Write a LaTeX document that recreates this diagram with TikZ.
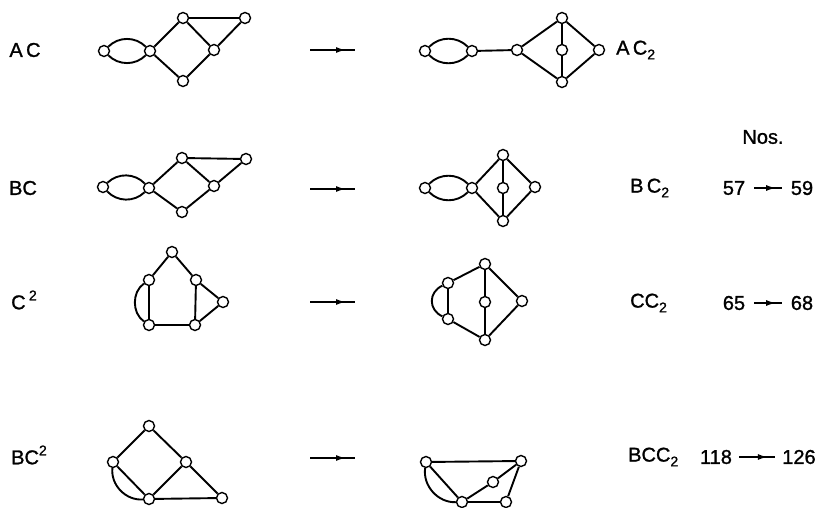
\documentclass[tikz,border=0pt]{standalone}
\usepackage{fontspec}
\setmainfont[FakeBold=1.2]{Liberation Sans}
\usetikzlibrary{arrows.meta,decorations.markings}

% lowered / raised indices for the graph names
\newcommand{\lowidx}[1]{\raisebox{-0.45ex}{\fontsize{14}{14}\selectfont #1}}
\newcommand{\highidx}[1]{\raisebox{0.85ex}{\fontsize{14}{14}\selectfont #1}}

\tikzset{
  vtx/.style={circle,draw,line width=1.4pt,fill=white,inner sep=0pt,minimum size=11pt},
  edg/.style={line width=1.9pt},
  lbl/.style={font=\fontsize{20}{20}\selectfont,inner sep=0pt},
  midarrow/.style={line width=1.9pt,postaction={decorate},
    decoration={markings,mark=at position #1 with {\arrow{Latex[length=10pt,width=6pt]}}}},
}

\begin{document}
\begin{tikzpicture}[x=1pt,y=-1pt]
\useasboundingbox (0,0) rectangle (817,508);

% ---------- row 1: AC -> AC2 ----------
\node[lbl] (tA1) at (25,50) {A\,C};
\node[vtx] (a1L) at (104,51) {};
\node[vtx] (a1C) at (150,51) {};
\node[vtx] (a1T) at (183,18) {};
\node[vtx] (a1R) at (214,50) {};
\node[vtx] (a1B) at (183,81) {};
\node[vtx] (a1F) at (245,18) {};
\draw[edg] (a1L) to[bend left=45] (a1C);
\draw[edg] (a1L) to[bend right=45] (a1C);
\draw[edg] (a1C) -- (a1T) -- (a1R) -- (a1B) -- (a1C);
\draw[edg] (a1T) -- (a1F) -- (a1R);

\coordinate (m1s) at (310,50);
\coordinate (m1e) at (355,50);
\draw[midarrow=0.8] (m1s) -- (m1e);

\node[vtx] (b1L) at (425,51) {};
\node[vtx] (b1M) at (472,51) {};
\node[vtx] (b1C) at (517,50) {};
\node[vtx] (b1T) at (562,18) {};
\node[vtx] (b1X) at (562,50) {};
\node[vtx] (b1B) at (562,82) {};
\node[vtx] (b1R) at (599,50) {};
\draw[edg] (b1L) to[bend left=45] (b1M);
\draw[edg] (b1L) to[bend right=45] (b1M);
\draw[edg] (b1M) -- (b1C);
\draw[edg] (b1C) -- (b1T) -- (b1R) -- (b1B) -- (b1C);
\draw[edg] (b1T) -- (b1X) -- (b1B);
\node[lbl,anchor=west] (tB1) at (616,50) {A\,C\lowidx{2}};

\node[lbl] (nos) at (763,137) {Nos.};

% ---------- row 2: BC -> BC2 ----------
\node[lbl] (tA2) at (23,188) {BC};
\node[vtx] (a2L) at (103,187) {};
\node[vtx] (a2C) at (149,188) {};
\node[vtx] (a2T) at (182,158) {};
\node[vtx] (a2R) at (214,186) {};
\node[vtx] (a2B) at (182,212) {};
\node[vtx] (a2F) at (246,159) {};
\draw[edg] (a2L) to[bend left=45] (a2C);
\draw[edg] (a2L) to[bend right=45] (a2C);
\draw[edg] (a2C) -- (a2T) -- (a2R) -- (a2B) -- (a2C);
\draw[edg] (a2T) -- (a2F) -- (a2R);

\coordinate (m2s) at (310,189);
\coordinate (m2e) at (355,189);
\draw[midarrow=0.8] (m2s) -- (m2e);

\node[vtx] (b2L) at (425,188) {};
\node[vtx] (b2C) at (472,188) {};
\node[vtx] (b2T) at (503,155) {};
\node[vtx] (b2X) at (503,188) {};
\node[vtx] (b2B) at (503,221) {};
\node[vtx] (b2R) at (535,187) {};
\draw[edg] (b2L) to[bend left=45] (b2C);
\draw[edg] (b2L) to[bend right=45] (b2C);
\draw[edg] (b2C) -- (b2T) -- (b2R) -- (b2B) -- (b2C);
\draw[edg] (b2T) -- (b2X) -- (b2B);
\node[lbl,anchor=west] (tB2) at (630,188) {B\,C\lowidx{2}};
\node[lbl] (n2a) at (734,188) {57};
\node[lbl] (n2b) at (802,188) {59};
\path (n2a.east) ++(9,0) coordinate (n2s) (n2b.west) ++(-9,0) coordinate (n2e);
\draw[midarrow=0.8] (n2s) -- (n2e);

% ---------- row 3: C^2 -> CC2 ----------
\node[lbl,anchor=west] (tA3) at (11,300) {C\,\highidx{2}};
\node[vtx] (a3T) at (172,252) {};
\node[vtx] (a3UL) at (149,280) {};
\node[vtx] (a3UR) at (196,280) {};
\node[vtx] (a3R) at (223,302) {};
\node[vtx] (a3LL) at (149,325) {};
\node[vtx] (a3LR) at (195,325) {};
\draw[edg] (a3UL) -- (a3T) -- (a3UR) -- (a3LR) -- (a3LL) -- (a3UL);
\draw[edg] (a3UL) to[bend right=55] (a3LL);
\draw[edg] (a3UR) -- (a3R) -- (a3LR);

\coordinate (m3s) at (310,302);
\coordinate (m3e) at (355,302);
\draw[midarrow=0.8] (m3s) -- (m3e);

\node[vtx] (b3T) at (485,264) {};
\node[vtx] (b3UL) at (448,283) {};
\node[vtx] (b3X) at (485,302) {};
\node[vtx] (b3R) at (522,301) {};
\node[vtx] (b3LL) at (448,319) {};
\node[vtx] (b3B) at (485,340) {};
\draw[edg] (b3T) -- (b3UL) -- (b3LL) -- (b3B);
\draw[edg] (b3UL) to[bend right=65,looseness=1.3] (b3LL);
\draw[edg] (b3T) -- (b3X) -- (b3B);
\draw[edg] (b3T) -- (b3R) -- (b3B);
\node[lbl,anchor=west] (tB3) at (630,303) {CC\lowidx{2}};
\node[lbl] (n3a) at (734,303) {65};
\node[lbl] (n3b) at (802,303) {68};
\path (n3a.east) ++(9,0) coordinate (n3s) (n3b.west) ++(-9,0) coordinate (n3e);
\draw[midarrow=0.8] (n3s) -- (n3e);

% ---------- row 4: BC^2 -> BCC2 ----------
\node[lbl,anchor=west] (tA4) at (11,455) {BC\highidx{2}};
\node[vtx] (a4T) at (149,426) {};
\node[vtx] (a4L) at (113,462) {};
\node[vtx] (a4R) at (186,462) {};
\node[vtx] (a4B) at (149,499) {};
\node[vtx] (a4F) at (222,498) {};
\draw[edg] (a4L) -- (a4T) -- (a4R) -- (a4B) -- (a4L);
\draw[edg] (a4L) to[bend right=50] (a4B);
\draw[edg] (a4R) -- (a4F) -- (a4B);

\coordinate (m4s) at (310,458);
\coordinate (m4e) at (355,458);
\draw[midarrow=0.8] (m4s) -- (m4e);

\node[vtx] (b4TL) at (426,462) {};
\node[vtx] (b4TR) at (521,461) {};
\node[vtx] (b4X) at (493,482) {};
\node[vtx] (b4B) at (462,502) {};
\node[vtx] (b4F) at (506,502) {};
\draw[edg] (b4TL) -- (b4TR) -- (b4X) -- (b4B) -- (b4TL);
\draw[edg] (b4TL) to[bend right=50] (b4B);
\draw[edg] (b4B) -- (b4F) -- (b4TR);
\node[lbl,anchor=west] (tB4) at (628,457) {BCC\lowidx{2}};
\node[lbl] (n4a) at (716,457) {118};
\node[lbl] (n4b) at (799,457) {126};
\path (n4a.east) ++(7,0) coordinate (n4s) (n4b.west) ++(-7,0) coordinate (n4e);
\draw[midarrow=0.8] (n4s) -- (n4e);
\end{tikzpicture}
\end{document}
